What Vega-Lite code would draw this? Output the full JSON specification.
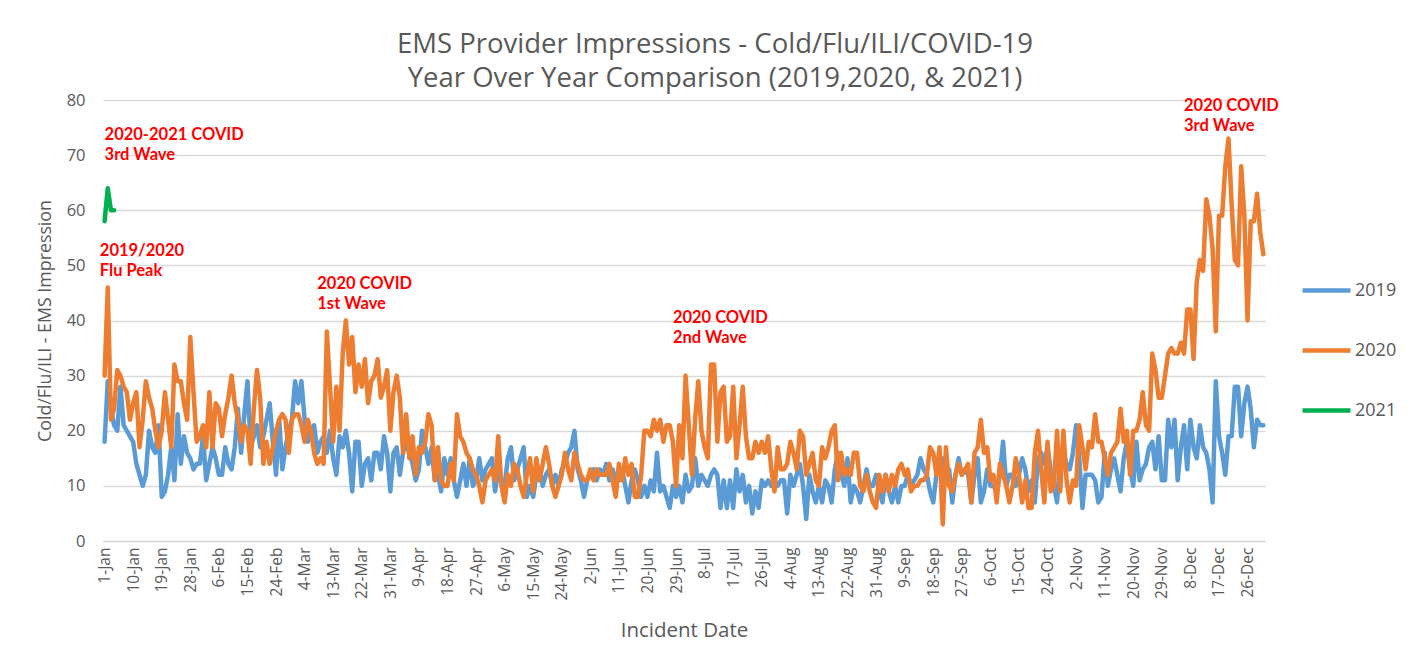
{
  "$schema": "https://vega.github.io/schema/vega-lite/v6.json",
  "autosize": {"type": "none"},
  "width": 1162,
  "height": 441,
  "padding": {"left": 103, "top": 100, "right": 142, "bottom": 111},
  "background": "white",
  "title": {
    "text": ["EMS Provider Impressions - Cold/Flu/ILI/COVID-19", "Year Over Year Comparison (2019,2020, & 2021)"],
    "font": "Open Sans", "fontSize": 27.5, "fontWeight": "normal", "color": "#595959",
    "anchor": "middle", "dx": 31, "offset": 0, "lineHeight": 33.5
  },
  "config": {
    "view": {"stroke": null},
    "font": "Open Sans"
  },
  "layer": [
    {
      "data": {"values": [
{"date":"2020-01-01","2019":18,"2020":30,"2021":58},{"date":"2020-01-02","2019":29,"2020":46,"2021":64},{"date":"2020-01-03","2019":24,"2020":22,"2021":60},{"date":"2020-01-04","2019":21,"2020":24,"2021":60},{"date":"2020-01-05","2019":20,"2020":31},{"date":"2020-01-06","2019":28,"2020":30},{"date":"2020-01-07","2019":21,"2020":28},{"date":"2020-01-08","2019":20,"2020":27},{"date":"2020-01-09","2019":19,"2020":22},{"date":"2020-01-10","2019":18,"2020":25},
{"date":"2020-01-11","2019":14,"2020":27},{"date":"2020-01-12","2019":12,"2020":17},{"date":"2020-01-13","2019":10,"2020":22},{"date":"2020-01-14","2019":12,"2020":29},{"date":"2020-01-15","2019":20,"2020":26},{"date":"2020-01-16","2019":17,"2020":24},{"date":"2020-01-17","2019":16,"2020":20},{"date":"2020-01-18","2019":21,"2020":17},{"date":"2020-01-19","2019":8,"2020":20},{"date":"2020-01-20","2019":9,"2020":27},
{"date":"2020-01-21","2019":12,"2020":22},{"date":"2020-01-22","2019":17,"2020":17},{"date":"2020-01-23","2019":11,"2020":32},{"date":"2020-01-24","2019":23,"2020":29},{"date":"2020-01-25","2019":14,"2020":29},{"date":"2020-01-26","2019":19,"2020":25},{"date":"2020-01-27","2019":16,"2020":22},{"date":"2020-01-28","2019":15,"2020":37},{"date":"2020-01-29","2019":13,"2020":27},{"date":"2020-01-30","2019":14,"2020":18},{"date":"2020-01-31","2019":14,"2020":19},
{"date":"2020-02-01","2019":19,"2020":21},{"date":"2020-02-02","2019":11,"2020":17},{"date":"2020-02-03","2019":14,"2020":27},{"date":"2020-02-04","2019":17,"2020":17},{"date":"2020-02-05","2019":15,"2020":25},{"date":"2020-02-06","2019":12,"2020":24},{"date":"2020-02-07","2019":12,"2020":19},{"date":"2020-02-08","2019":17,"2020":23},{"date":"2020-02-09","2019":14,"2020":26},{"date":"2020-02-10","2019":13,"2020":30},
{"date":"2020-02-11","2019":17,"2020":25},{"date":"2020-02-12","2019":24,"2020":22},{"date":"2020-02-13","2019":16,"2020":18},{"date":"2020-02-14","2019":23,"2020":21},{"date":"2020-02-15","2019":29,"2020":20},{"date":"2020-02-16","2019":17,"2020":14},{"date":"2020-02-17","2019":19,"2020":24},{"date":"2020-02-18","2019":21,"2020":31},{"date":"2020-02-19","2019":17,"2020":26},{"date":"2020-02-20","2019":19,"2020":14},
{"date":"2020-02-21","2019":22,"2020":18},{"date":"2020-02-22","2019":25,"2020":14},{"date":"2020-02-23","2019":18,"2020":17},{"date":"2020-02-24","2019":12,"2020":20},{"date":"2020-02-25","2019":22,"2020":22},{"date":"2020-02-26","2019":13,"2020":23},{"date":"2020-02-27","2019":17,"2020":22},{"date":"2020-02-28","2019":20,"2020":16},{"date":"2020-02-29","2019":22,"2020":22},
{"date":"2020-03-01","2019":29,"2020":23},{"date":"2020-03-02","2019":25,"2020":23},{"date":"2020-03-03","2019":29,"2020":21},{"date":"2020-03-04","2019":22,"2020":18},{"date":"2020-03-05","2019":18,"2020":22},{"date":"2020-03-06","2019":20,"2020":20},{"date":"2020-03-07","2019":21,"2020":16},{"date":"2020-03-08","2019":16,"2020":14},{"date":"2020-03-09","2019":18,"2020":15},{"date":"2020-03-10","2019":19,"2020":14},
{"date":"2020-03-11","2019":16,"2020":38},{"date":"2020-03-12","2019":20,"2020":28},{"date":"2020-03-13","2019":15,"2020":18},{"date":"2020-03-14","2019":12,"2020":28},{"date":"2020-03-15","2019":19,"2020":20},{"date":"2020-03-16","2019":17,"2020":34},{"date":"2020-03-17","2019":20,"2020":40},{"date":"2020-03-18","2019":16,"2020":32},{"date":"2020-03-19","2019":9,"2020":37},{"date":"2020-03-20","2019":18,"2020":27},
{"date":"2020-03-21","2019":18,"2020":32},{"date":"2020-03-22","2019":10,"2020":28},{"date":"2020-03-23","2019":14,"2020":33},{"date":"2020-03-24","2019":15,"2020":25},{"date":"2020-03-25","2019":11,"2020":29},{"date":"2020-03-26","2019":16,"2020":30},{"date":"2020-03-27","2019":16,"2020":33},{"date":"2020-03-28","2019":13,"2020":26},{"date":"2020-03-29","2019":19,"2020":28},{"date":"2020-03-30","2019":16,"2020":31},{"date":"2020-03-31","2019":9,"2020":20},
{"date":"2020-04-01","2019":16,"2020":27},{"date":"2020-04-02","2019":17,"2020":30},{"date":"2020-04-03","2019":12,"2020":26},{"date":"2020-04-04","2019":16,"2020":16},{"date":"2020-04-05","2019":18,"2020":23},{"date":"2020-04-06","2019":16,"2020":15},{"date":"2020-04-07","2019":14,"2020":19},{"date":"2020-04-08","2019":11,"2020":12},{"date":"2020-04-09","2019":13,"2020":17},{"date":"2020-04-10","2019":20,"2020":16},
{"date":"2020-04-11","2019":17,"2020":18},{"date":"2020-04-12","2019":14,"2020":23},{"date":"2020-04-13","2019":17,"2020":21},{"date":"2020-04-14","2019":11,"2020":11},{"date":"2020-04-15","2019":12,"2020":17},{"date":"2020-04-16","2019":9,"2020":11},{"date":"2020-04-17","2019":15,"2020":10},{"date":"2020-04-18","2019":12,"2020":10},{"date":"2020-04-19","2019":15,"2020":14},{"date":"2020-04-20","2019":11,"2020":11},
{"date":"2020-04-21","2019":8,"2020":23},{"date":"2020-04-22","2019":11,"2020":19},{"date":"2020-04-23","2019":14,"2020":18},{"date":"2020-04-24","2019":10,"2020":16},{"date":"2020-04-25","2019":15,"2020":15},{"date":"2020-04-26","2019":10,"2020":13},{"date":"2020-04-27","2019":11,"2020":12},{"date":"2020-04-28","2019":15,"2020":10},{"date":"2020-04-29","2019":11,"2020":7},{"date":"2020-04-30","2019":13,"2020":11},
{"date":"2020-05-01","2019":14,"2020":12},{"date":"2020-05-02","2019":15,"2020":13},{"date":"2020-05-03","2019":9,"2020":11},{"date":"2020-05-04","2019":13,"2020":19},{"date":"2020-05-05","2019":11,"2020":10},{"date":"2020-05-06","2019":10,"2020":7},{"date":"2020-05-07","2019":15,"2020":12},{"date":"2020-05-08","2019":17,"2020":10},{"date":"2020-05-09","2019":11,"2020":14},{"date":"2020-05-10","2019":13,"2020":13},
{"date":"2020-05-11","2019":15,"2020":10},{"date":"2020-05-12","2019":17,"2020":8},{"date":"2020-05-13","2019":8,"2020":12},{"date":"2020-05-14","2019":10,"2020":15},{"date":"2020-05-15","2019":8,"2020":9},{"date":"2020-05-16","2019":12,"2020":15},{"date":"2020-05-17","2019":13,"2020":11},{"date":"2020-05-18","2019":10,"2020":14},{"date":"2020-05-19","2019":12,"2020":17},{"date":"2020-05-20","2019":13,"2020":14},
{"date":"2020-05-21","2019":10,"2020":10},{"date":"2020-05-22","2019":12,"2020":8},{"date":"2020-05-23","2019":10,"2020":10},{"date":"2020-05-24","2019":13,"2020":12},{"date":"2020-05-25","2019":14,"2020":16},{"date":"2020-05-26","2019":16,"2020":13},{"date":"2020-05-27","2019":17,"2020":11},{"date":"2020-05-28","2019":20,"2020":16},{"date":"2020-05-29","2019":13,"2020":14},{"date":"2020-05-30","2019":11,"2020":12},{"date":"2020-05-31","2019":8,"2020":11},
{"date":"2020-06-01","2019":11,"2020":11},{"date":"2020-06-02","2019":12,"2020":13},{"date":"2020-06-03","2019":13,"2020":11},{"date":"2020-06-04","2019":11,"2020":13},{"date":"2020-06-05","2019":13,"2020":12},{"date":"2020-06-06","2019":12,"2020":12},{"date":"2020-06-07","2019":14,"2020":12},{"date":"2020-06-08","2019":11,"2020":14},{"date":"2020-06-09","2019":13,"2020":11},{"date":"2020-06-10","2019":11,"2020":8},
{"date":"2020-06-11","2019":11,"2020":14},{"date":"2020-06-12","2019":13,"2020":11},{"date":"2020-06-13","2019":10,"2020":15},{"date":"2020-06-14","2019":7,"2020":12},{"date":"2020-06-15","2019":11,"2020":14},{"date":"2020-06-16","2019":13,"2020":8},{"date":"2020-06-17","2019":11,"2020":8},{"date":"2020-06-18","2019":8,"2020":12},{"date":"2020-06-19","2019":10,"2020":20},{"date":"2020-06-20","2019":8,"2020":20},
{"date":"2020-06-21","2019":11,"2020":19},{"date":"2020-06-22","2019":9,"2020":22},{"date":"2020-06-23","2019":16,"2020":20},{"date":"2020-06-24","2019":9,"2020":22},{"date":"2020-06-25","2019":10,"2020":18},{"date":"2020-06-26","2019":8,"2020":21},{"date":"2020-06-27","2019":6,"2020":21},{"date":"2020-06-28","2019":10,"2020":18},{"date":"2020-06-29","2019":8,"2020":10},{"date":"2020-06-30","2019":10,"2020":21},
{"date":"2020-07-01","2019":7,"2020":15},{"date":"2020-07-02","2019":12,"2020":30},{"date":"2020-07-03","2019":9,"2020":21},{"date":"2020-07-04","2019":10,"2020":12},{"date":"2020-07-05","2019":15,"2020":22},{"date":"2020-07-06","2019":10,"2020":29},{"date":"2020-07-07","2019":12,"2020":20},{"date":"2020-07-08","2019":11,"2020":17},{"date":"2020-07-09","2019":10,"2020":15},{"date":"2020-07-10","2019":12,"2020":32},
{"date":"2020-07-11","2019":13,"2020":32},{"date":"2020-07-12","2019":12,"2020":18},{"date":"2020-07-13","2019":6,"2020":27},{"date":"2020-07-14","2019":11,"2020":28},{"date":"2020-07-15","2019":6,"2020":18},{"date":"2020-07-16","2019":11,"2020":19},{"date":"2020-07-17","2019":6,"2020":28},{"date":"2020-07-18","2019":13,"2020":15},{"date":"2020-07-19","2019":9,"2020":21},{"date":"2020-07-20","2019":12,"2020":28},
{"date":"2020-07-21","2019":7,"2020":19},{"date":"2020-07-22","2019":10,"2020":15},{"date":"2020-07-23","2019":5,"2020":15},{"date":"2020-07-24","2019":9,"2020":18},{"date":"2020-07-25","2019":6,"2020":16},{"date":"2020-07-26","2019":11,"2020":18},{"date":"2020-07-27","2019":10,"2020":16},{"date":"2020-07-28","2019":11,"2020":19},{"date":"2020-07-29","2019":10,"2020":13},{"date":"2020-07-30","2019":11,"2020":9},{"date":"2020-07-31","2019":10,"2020":17},
{"date":"2020-08-01","2019":11,"2020":13},{"date":"2020-08-02","2019":11,"2020":13},{"date":"2020-08-03","2019":5,"2020":14},{"date":"2020-08-04","2019":12,"2020":18},{"date":"2020-08-05","2019":10,"2020":16},{"date":"2020-08-06","2019":12,"2020":13},{"date":"2020-08-07","2019":14,"2020":20},{"date":"2020-08-08","2019":10,"2020":19},{"date":"2020-08-09","2019":4,"2020":12},{"date":"2020-08-10","2019":12,"2020":14},
{"date":"2020-08-11","2019":9,"2020":16},{"date":"2020-08-12","2019":7,"2020":11},{"date":"2020-08-13","2019":10,"2020":10},{"date":"2020-08-14","2019":7,"2020":17},{"date":"2020-08-15","2019":11,"2020":15},{"date":"2020-08-16","2019":10,"2020":17},{"date":"2020-08-17","2019":7,"2020":20},{"date":"2020-08-18","2019":13,"2020":21},{"date":"2020-08-19","2019":16,"2020":11},{"date":"2020-08-20","2019":12,"2020":16},
{"date":"2020-08-21","2019":10,"2020":12},{"date":"2020-08-22","2019":15,"2020":13},{"date":"2020-08-23","2019":7,"2020":12},{"date":"2020-08-24","2019":10,"2020":16},{"date":"2020-08-25","2019":9,"2020":16},{"date":"2020-08-26","2019":7,"2020":10},{"date":"2020-08-27","2019":10,"2020":9},{"date":"2020-08-28","2019":13,"2020":12},{"date":"2020-08-29","2019":10,"2020":9},{"date":"2020-08-30","2019":10,"2020":7},{"date":"2020-08-31","2019":12,"2020":6},
{"date":"2020-09-01","2019":9,"2020":12},{"date":"2020-09-02","2019":7,"2020":9},{"date":"2020-09-03","2019":12,"2020":12},{"date":"2020-09-04","2019":9,"2020":9},{"date":"2020-09-05","2019":7,"2020":12},{"date":"2020-09-06","2019":10,"2020":10},{"date":"2020-09-07","2019":7,"2020":13},{"date":"2020-09-08","2019":10,"2020":14},{"date":"2020-09-09","2019":10,"2020":12},{"date":"2020-09-10","2019":12,"2020":13},
{"date":"2020-09-11","2019":10,"2020":9},{"date":"2020-09-12","2019":11,"2020":10},{"date":"2020-09-13","2019":12,"2020":10},{"date":"2020-09-14","2019":15,"2020":11},{"date":"2020-09-15","2019":13,"2020":11},{"date":"2020-09-16","2019":12,"2020":12},{"date":"2020-09-17","2019":9,"2020":17},{"date":"2020-09-18","2019":7,"2020":16},{"date":"2020-09-19","2019":12,"2020":12},{"date":"2020-09-20","2019":13,"2020":17},
{"date":"2020-09-21","2019":15,"2020":3},{"date":"2020-09-22","2019":12,"2020":17},{"date":"2020-09-23","2019":13,"2020":10},{"date":"2020-09-24","2019":7,"2020":9},{"date":"2020-09-25","2019":12,"2020":12},{"date":"2020-09-26","2019":15,"2020":14},{"date":"2020-09-27","2019":12,"2020":12},{"date":"2020-09-28","2019":13,"2020":13},{"date":"2020-09-29","2019":12,"2020":14},{"date":"2020-09-30","2019":7,"2020":7},
{"date":"2020-10-01","2019":12,"2020":16},{"date":"2020-10-02","2019":15,"2020":17},{"date":"2020-10-03","2019":7,"2020":22},{"date":"2020-10-04","2019":9,"2020":16},{"date":"2020-10-05","2019":13,"2020":17},{"date":"2020-10-06","2019":10,"2020":11},{"date":"2020-10-07","2019":10,"2020":12},{"date":"2020-10-08","2019":9,"2020":7},{"date":"2020-10-09","2019":12,"2020":14},{"date":"2020-10-10","2019":18,"2020":12},
{"date":"2020-10-11","2019":10,"2020":10},{"date":"2020-10-12","2019":12,"2020":7},{"date":"2020-10-13","2019":12,"2020":10},{"date":"2020-10-14","2019":10,"2020":15},{"date":"2020-10-15","2019":12,"2020":12},{"date":"2020-10-16","2019":15,"2020":7},{"date":"2020-10-17","2019":13,"2020":11},{"date":"2020-10-18","2019":9,"2020":6},{"date":"2020-10-19","2019":11,"2020":6},{"date":"2020-10-20","2019":7,"2020":16},
{"date":"2020-10-21","2019":15,"2020":20},{"date":"2020-10-22","2019":16,"2020":13},{"date":"2020-10-23","2019":14,"2020":7},{"date":"2020-10-24","2019":17,"2020":18},{"date":"2020-10-25","2019":13,"2020":9},{"date":"2020-10-26","2019":10,"2020":10},{"date":"2020-10-27","2019":7,"2020":20},{"date":"2020-10-28","2019":15,"2020":9},{"date":"2020-10-29","2019":16,"2020":20},{"date":"2020-10-30","2019":14,"2020":11},{"date":"2020-10-31","2019":13,"2020":7},
{"date":"2020-11-01","2019":16,"2020":11},{"date":"2020-11-02","2019":21,"2020":10},{"date":"2020-11-03","2019":15,"2020":21},{"date":"2020-11-04","2019":6,"2020":17},{"date":"2020-11-05","2019":12,"2020":13},{"date":"2020-11-06","2019":12,"2020":18},{"date":"2020-11-07","2019":12,"2020":17},{"date":"2020-11-08","2019":11,"2020":23},{"date":"2020-11-09","2019":7,"2020":18},{"date":"2020-11-10","2019":8,"2020":18},
{"date":"2020-11-11","2019":16,"2020":15},{"date":"2020-11-12","2019":10,"2020":12},{"date":"2020-11-13","2019":13,"2020":16},{"date":"2020-11-14","2019":15,"2020":17},{"date":"2020-11-15","2019":12,"2020":18},{"date":"2020-11-16","2019":9,"2020":24},{"date":"2020-11-17","2019":15,"2020":18},{"date":"2020-11-18","2019":18,"2020":20},{"date":"2020-11-19","2019":13,"2020":12},{"date":"2020-11-20","2019":10,"2020":20},
{"date":"2020-11-21","2019":18,"2020":20},{"date":"2020-11-22","2019":11,"2020":22},{"date":"2020-11-23","2019":13,"2020":27},{"date":"2020-11-24","2019":14,"2020":21},{"date":"2020-11-25","2019":17,"2020":20},{"date":"2020-11-26","2019":18,"2020":34},{"date":"2020-11-27","2019":13,"2020":31},{"date":"2020-11-28","2019":19,"2020":26},{"date":"2020-11-29","2019":11,"2020":26},{"date":"2020-11-30","2019":11,"2020":30},
{"date":"2020-12-01","2019":22,"2020":34},{"date":"2020-12-02","2019":17,"2020":35},{"date":"2020-12-03","2019":22,"2020":34},{"date":"2020-12-04","2019":11,"2020":34},{"date":"2020-12-05","2019":17,"2020":36},{"date":"2020-12-06","2019":21,"2020":34},{"date":"2020-12-07","2019":13,"2020":42},{"date":"2020-12-08","2019":22,"2020":42},{"date":"2020-12-09","2019":17,"2020":33},{"date":"2020-12-10","2019":15,"2020":47},
{"date":"2020-12-11","2019":21,"2020":51},{"date":"2020-12-12","2019":17,"2020":49},{"date":"2020-12-13","2019":16,"2020":62},{"date":"2020-12-14","2019":13,"2020":59},{"date":"2020-12-15","2019":7,"2020":53},{"date":"2020-12-16","2019":29,"2020":38},{"date":"2020-12-17","2019":19,"2020":59},{"date":"2020-12-18","2019":16,"2020":59},{"date":"2020-12-19","2019":12,"2020":68},{"date":"2020-12-20","2019":19,"2020":73},
{"date":"2020-12-21","2019":19,"2020":61},{"date":"2020-12-22","2019":28,"2020":51},{"date":"2020-12-23","2019":28,"2020":50},{"date":"2020-12-24","2019":19,"2020":68},{"date":"2020-12-25","2019":25,"2020":59},{"date":"2020-12-26","2019":28,"2020":40},{"date":"2020-12-27","2019":24,"2020":58},{"date":"2020-12-28","2019":17,"2020":58},{"date":"2020-12-29","2019":22,"2020":63},{"date":"2020-12-30","2019":21,"2020":56},{"date":"2020-12-31","2019":21,"2020":52}
      ]},
      "transform": [
        {"fold": ["2019", "2020", "2021"], "as": ["series", "value"]},
        {"filter": "isValid(datum.value)"}
      ],
      "mark": {"type": "line", "strokeWidth": 4.5, "strokeJoin": "round", "strokeCap": "round"},
      "encoding": {
        "x": {
          "field": "date", "type": "temporal",
          "scale": {"type": "utc", "domain": [{"year": 2019, "month": 12, "date": 31, "hours": 12, "utc": true}, {"year": 2020, "month": 12, "date": 31, "hours": 12, "utc": true}]},
          "axis": {
            "title": "Incident Date", "titleFontSize": 20.5, "titleColor": "#595959", "titleFontWeight": "normal", "titlePadding": 20,
            "format": "%-d-%b", "labelAngle": -90, "labelFontSize": 15.5, "labelColor": "#595959", "labelPadding": 6, "labelOverlap": false, "labelBound": false, "labelFlush": false,
            "tickCount": 200,
            "ticks": false, "grid": false, "domainColor": "#D9D9D9", "domainWidth": 1.3,
            "values": [
              {"year":2020,"month":1,"date":1,"utc":true},{"year":2020,"month":1,"date":10,"utc":true},{"year":2020,"month":1,"date":19,"utc":true},{"year":2020,"month":1,"date":28,"utc":true},
              {"year":2020,"month":2,"date":6,"utc":true},{"year":2020,"month":2,"date":15,"utc":true},{"year":2020,"month":2,"date":24,"utc":true},
              {"year":2020,"month":3,"date":4,"utc":true},{"year":2020,"month":3,"date":13,"utc":true},{"year":2020,"month":3,"date":22,"utc":true},{"year":2020,"month":3,"date":31,"utc":true},
              {"year":2020,"month":4,"date":9,"utc":true},{"year":2020,"month":4,"date":18,"utc":true},{"year":2020,"month":4,"date":27,"utc":true},
              {"year":2020,"month":5,"date":6,"utc":true},{"year":2020,"month":5,"date":15,"utc":true},{"year":2020,"month":5,"date":24,"utc":true},
              {"year":2020,"month":6,"date":2,"utc":true},{"year":2020,"month":6,"date":11,"utc":true},{"year":2020,"month":6,"date":20,"utc":true},{"year":2020,"month":6,"date":29,"utc":true},
              {"year":2020,"month":7,"date":8,"utc":true},{"year":2020,"month":7,"date":17,"utc":true},{"year":2020,"month":7,"date":26,"utc":true},
              {"year":2020,"month":8,"date":4,"utc":true},{"year":2020,"month":8,"date":13,"utc":true},{"year":2020,"month":8,"date":22,"utc":true},{"year":2020,"month":8,"date":31,"utc":true},
              {"year":2020,"month":9,"date":9,"utc":true},{"year":2020,"month":9,"date":18,"utc":true},{"year":2020,"month":9,"date":27,"utc":true},
              {"year":2020,"month":10,"date":6,"utc":true},{"year":2020,"month":10,"date":15,"utc":true},{"year":2020,"month":10,"date":24,"utc":true},
              {"year":2020,"month":11,"date":2,"utc":true},{"year":2020,"month":11,"date":11,"utc":true},{"year":2020,"month":11,"date":20,"utc":true},{"year":2020,"month":11,"date":29,"utc":true},
              {"year":2020,"month":12,"date":8,"utc":true},{"year":2020,"month":12,"date":17,"utc":true},{"year":2020,"month":12,"date":26,"utc":true}
            ]
          }
        },
        "y": {
          "field": "value", "type": "quantitative",
          "scale": {"domain": [0, 80], "nice": false},
          "axis": {
            "title": "Cold/Flu/ILI - EMS Impression", "titleFontSize": 17.8, "titleColor": "#595959", "titleFontWeight": "normal", "titlePadding": 12,
            "values": [0, 10, 20, 30, 40, 50, 60, 70, 80],
            "labelFontSize": 16.5, "labelColor": "#595959", "labelPadding": 18,
            "ticks": false, "domain": false, "grid": true, "gridColor": "#D9D9D9", "gridWidth": 1.3
          }
        },
        "color": {
          "field": "series", "type": "nominal",
          "scale": {"domain": ["2019", "2020", "2021"], "range": ["#5B9BD5", "#ED7D31", "#00B050"]},
          "legend": {
            "title": null, "orient": "none", "legendX": 1197, "legendY": 164,
            "symbolType": "stroke", "symbolStrokeWidth": 4.5, "symbolSize": 2300,
            "labelFontSize": 18, "labelColor": "#595959", "rowPadding": 24, "labelOffset": 2
          }
        }
      }
    },
    {
      "data": {"values": [
        {"date": "2020-01-01", "value": 75.1, "label": "2020-2021 COVID\n3rd Wave"},
        {"date": "2019-12-30T12:00:00Z", "value": 54.0, "label": "2019/2020\nFlu Peak"},
        {"date": "2020-03-08", "value": 48.0, "label": "2020 COVID\n1st Wave"},
        {"date": "2020-06-28", "value": 41.9, "label": "2020 COVID\n2nd Wave"},
        {"date": "2020-12-06", "value": 80.3, "label": "2020 COVID\n3rd Wave"}
      ]},
      "mark": {"type": "text", "font": "Lato", "align": "left", "baseline": "top", "fontWeight": "bold", "fontSize": 16.5, "color": "#FF0000", "lineBreak": "\n", "lineHeight": 20},
      "encoding": {
        "x": {"field": "date", "type": "temporal"},
        "y": {"field": "value", "type": "quantitative"},
        "text": {"field": "label"}
      }
    }
  ]
}
